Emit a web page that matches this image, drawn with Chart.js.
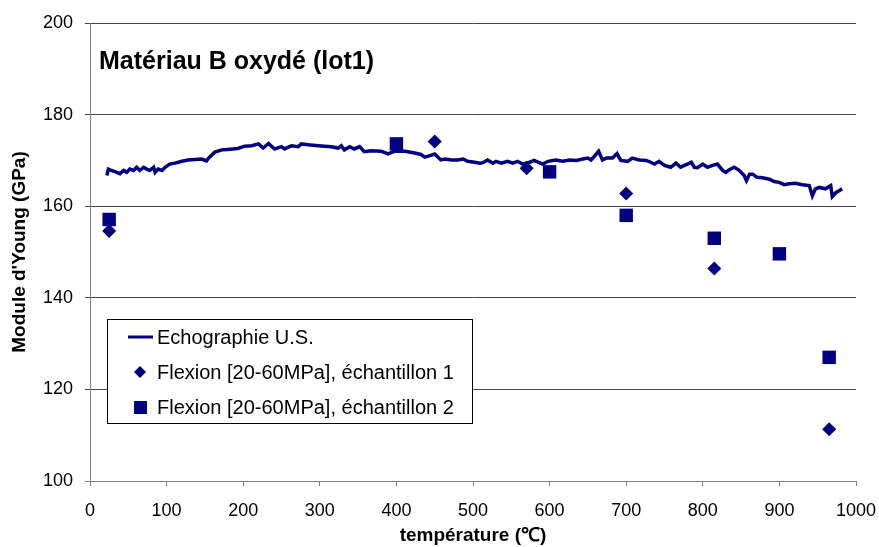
<!DOCTYPE html>
<html>
<head>
<meta charset="utf-8">
<script src="https://cdn.jsdelivr.net/npm/chart.js@4"></script>
<style>
  body { margin: 0; background: #fff; }
  #wrap { width: 879px; height: 547px; }
</style>
</head>
<body>
<div id="wrap"><canvas id="youngCanvas" width="879" height="547"></canvas></div>
<script>
// Echographie U.S. (courbe continue)
const usTemp = [22, 24, 28, 35, 39, 44, 48, 52, 57, 61, 65, 70, 74, 78, 83, 85, 89, 94, 98, 104,
  111, 120, 128, 137, 146, 152, 156, 163, 172, 180, 193, 202, 211, 220, 226, 233, 241, 250, 254, 263,
  272, 276, 285, 298, 315, 324, 328, 332, 339, 345, 352, 358, 367, 380, 389, 398, 411, 424, 432, 437,
  445, 450, 458, 463, 472, 480, 487, 493, 502, 509, 513, 519, 526, 530, 537, 545, 552, 558, 565, 574,
  580, 585, 591, 598, 608, 617, 626, 635, 643, 650, 654, 658, 664, 669, 674, 682, 688, 693, 702, 708,
  717, 726, 732, 737, 743, 750, 758, 765, 771, 776, 780, 785, 789, 793, 800, 806, 813, 819, 826, 830,
  834, 841, 847, 854, 857, 861, 865, 871, 878, 887, 893, 900, 906, 913, 921, 930, 939, 943, 947, 952,
  960, 967, 969, 974, 978, 982];
const usModulus = [166.7, 168.1, 167.8, 167.4, 167.1, 167.8, 167.4, 168.1, 167.8, 168.5, 167.8, 168.5, 168.1, 167.8, 168.5, 167.4, 168.1, 167.8, 168.5, 169.2,
  169.4, 169.8, 170.1, 170.2, 170.3, 169.9, 170.7, 171.8, 172.3, 172.4, 172.6, 173.1, 173.2, 173.6, 172.7, 173.7, 172.5, 173.0, 172.5, 173.2,
  173.0, 173.6, 173.4, 173.2, 173.0, 172.7, 173.2, 172.3, 173.0, 172.5, 173.0, 171.9, 172.1, 172.0, 171.4, 172.0, 172.0, 171.6, 171.3, 170.7,
  171.1, 171.4, 170.1, 170.3, 170.1, 170.1, 170.3, 169.8, 169.6, 169.4, 169.5, 170.1, 169.4, 169.8, 169.4, 169.8, 169.4, 169.8, 169.2, 169.6,
  170.0, 169.6, 169.2, 169.8, 170.1, 169.8, 170.1, 170.0, 170.3, 170.5, 170.1, 170.8, 172.0, 170.1, 170.5, 170.5, 171.5, 170.0, 169.8, 170.5,
  170.1, 170.0, 169.6, 169.2, 169.8, 168.9, 168.5, 169.4, 168.5, 168.9, 169.2, 169.6, 168.5, 168.4, 169.2, 168.5, 168.9, 169.2, 167.8, 167.4,
  167.9, 168.5, 167.9, 166.7, 165.6, 167.0, 167.0, 166.3, 166.2, 165.9, 165.4, 165.2, 164.7, 164.9, 165.0, 164.7, 164.5, 162.3, 163.8, 164.1,
  163.8, 164.5, 162.1, 163.0, 163.4, 163.8];

// Flexion [20-60MPa], échantillon 1
const flex1Temp = [25, 450, 570, 700, 815, 965];
const flex1Modulus = [154.6, 174.1, 168.3, 162.8, 146.4, 111.3];

// Flexion [20-60MPa], échantillon 2
const flex2Temp = [25, 400, 600, 700, 815, 900, 965];
const flex2Modulus = [157.1, 173.6, 167.5, 158.0, 153.0, 149.6, 127.0];

const seriesNames = ["Echographie U.S.", "Flexion [20-60MPa], échantillon 1", "Flexion [20-60MPa], échantillon 2"];
const chartTitle = "Matériau B oxydé (lot1)";

const navy = "#000080";
const fontFamily = "'Liberation Sans', Arial, sans-serif";

function toPoints(xs, ys) {
  return xs.map((x, i) => ({ x: x, y: ys[i] }));
}

// titre et légende dessinés dans la zone du graphique
const overlayPlugin = {
  id: "overlay",
  afterDraw(chart) {
    const ctx = chart.ctx;
    ctx.save();
    ctx.fillStyle = "#000";
    ctx.font = "bold 25px " + fontFamily;
    ctx.textBaseline = "middle";
    ctx.textAlign = "left";
    ctx.fillText(chartTitle, 99, 62);

    // boîte de légende
    const bx = 107, by = 319, bw = 365, bh = 104;
    ctx.fillStyle = "#fff";
    ctx.fillRect(bx, by, bw, bh);
    ctx.strokeStyle = "#000";
    ctx.lineWidth = 1;
    ctx.strokeRect(bx + 0.5, by + 0.5, bw, bh);

    const rows = [337, 372, 407];
    ctx.font = "20px " + fontFamily;
    ctx.fillStyle = "#000";
    rows.forEach((y, i) => {
      ctx.fillText(seriesNames[i], 157, y + 1);
    });

    ctx.strokeStyle = navy;
    ctx.lineWidth = 3;
    ctx.beginPath();
    ctx.moveTo(128, rows[0]);
    ctx.lineTo(153, rows[0]);
    ctx.stroke();

    ctx.fillStyle = navy;
    ctx.beginPath();
    ctx.moveTo(140, rows[1] - 6);
    ctx.lineTo(146, rows[1]);
    ctx.lineTo(140, rows[1] + 6);
    ctx.lineTo(134, rows[1]);
    ctx.closePath();
    ctx.fill();
    ctx.fillRect(134, rows[2] - 6, 13, 13);
    ctx.restore();
  }
};

const ctx = document.getElementById("youngCanvas").getContext("2d");

new Chart(ctx, {
  type: "scatter",
  data: {
    datasets: [
      {
        label: seriesNames[0],
        data: toPoints(usTemp, usModulus),
        showLine: true,
        borderColor: navy,
        borderWidth: 3.5,
        pointRadius: 0,
        tension: 0,
        order: 3
      },
      {
        label: seriesNames[1],
        data: toPoints(flex1Temp, flex1Modulus),
        pointStyle: "rectRot",
        pointRadius: 7,
        backgroundColor: navy,
        borderColor: navy,
        borderWidth: 0,
        order: 2
      },
      {
        label: seriesNames[2],
        data: toPoints(flex2Temp, flex2Modulus),
        pointStyle: "rect",
        pointRadius: 9.5,
        backgroundColor: navy,
        borderColor: navy,
        borderWidth: 0,
        order: 1
      }
    ]
  },
  options: {
    responsive: false,
    animation: false,
    devicePixelRatio: 1,
    layout: { padding: { top: 23, right: 23, left: 0, bottom: 0 } },
    plugins: {
      legend: { display: false },
      tooltip: { enabled: false }
    },
    scales: {
      x: {
        type: "linear",
        min: 0,
        max: 1000,
        afterFit: (s) => {
          s.height = 66;
          s.paddingLeft = 0;
          s.paddingRight = 0;
        },
        ticks: {
          stepSize: 100,
          color: "#000",
          padding: 14,
          maxRotation: 0,
          callback: (v) => String(v),
          font: { family: fontFamily, size: 18 }
        },
        grid: { drawOnChartArea: false, tickLength: 5, color: "#808080" },
        border: { color: "#808080" },
        title: {
          display: true,
          text: "température (℃)",
          color: "#000",
          padding: { top: 0, bottom: 0 },
          font: { family: fontFamily, size: 19, weight: "bold" }
        }
      },
      y: {
        min: 100,
        max: 200,
        afterFit: (s) => { s.width = 90; },
        ticks: {
          stepSize: 20,
          color: "#000",
          padding: 12,
          callback: (v) => String(v),
          font: { family: fontFamily, size: 18 }
        },
        grid: {
          tickLength: 5,
          color: (c) => (c.tick && c.tick.value === 100 ? "#808080" : "#444")
        },
        border: { color: "#808080" },
        title: {
          display: true,
          text: "Module d'Young (GPa)",
          color: "#000",
          padding: { top: 8, bottom: 0 },
          font: { family: fontFamily, size: 19, weight: "bold" }
        }
      }
    }
  },
  plugins: [overlayPlugin]
});
</script>
</body>
</html>
